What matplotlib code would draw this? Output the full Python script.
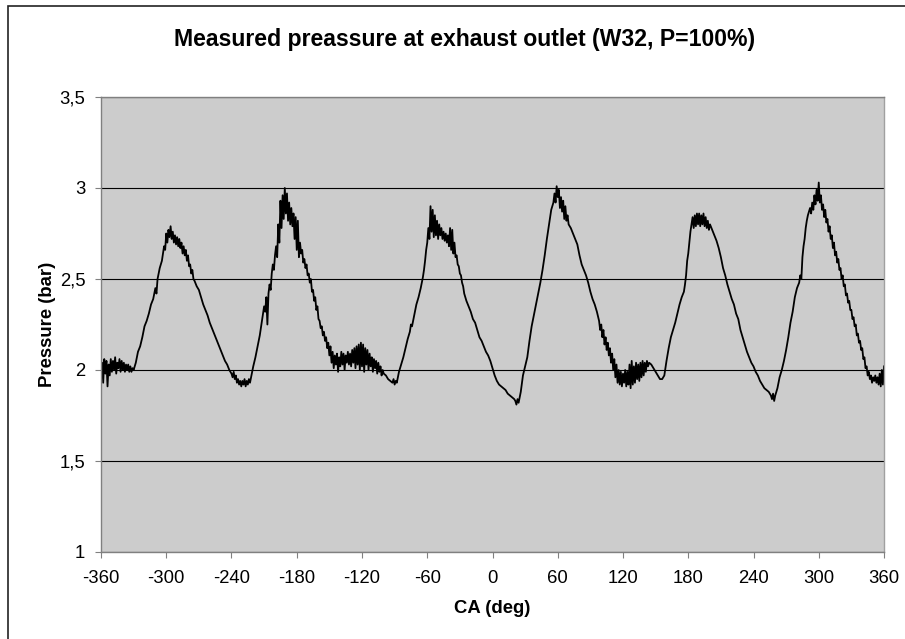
import matplotlib
matplotlib.use('Agg')
import matplotlib.pyplot as plt
from matplotlib.patches import Rectangle

plt.rcParams['font.family'] = ['Liberation Sans', 'DejaVu Sans']
plt.rcParams['axes.unicode_minus'] = False

title = 'Measured preassure at exhaust outlet (W32, P=100%)'
x_label = 'CA (deg)'
y_label = 'Pressure (bar)'
x_ticks = list(range(-360, 361, 60))
y_ticks = [1, 1.5, 2, 2.5, 3, 3.5]
y_tick_labels = ['1', '1,5', '2', '2,5', '3', '3,5']

# crank angle (deg) / pressure (bar)
ca_deg = []
pressure = []

ca_deg += [-360, -359, -358, -357, -356, -355, -354, -353, -352, -351,
           -350, -349, -348, -347, -346, -345, -344, -343, -342, -341,
           -340, -339, -338, -337, -336, -335, -334, -333, -332, -331, -330]
pressure += [1.95, 2.04, 1.93, 2.06, 1.98, 2.05, 1.91, 2.03, 1.97, 2.06,
             1.99, 2.05, 2.00, 2.07, 1.98, 2.04, 2.01, 2.06, 1.99, 2.05,
             2.00, 2.04, 1.99, 2.03, 2.00, 2.03, 1.99, 2.02, 1.99, 2.01, 2.00]

ca_deg += [-328, -326, -324, -322, -320, -318, -316, -314, -312, -310,
           -309, -308, -306, -304, -303, -302, -301]
pressure += [2.04, 2.10, 2.13, 2.18, 2.24, 2.27, 2.31, 2.36, 2.39, 2.45,
             2.42, 2.50, 2.56, 2.60, 2.64, 2.68, 2.66]

ca_deg += [-300, -299, -298, -297, -296, -295, -294, -293, -292, -291,
           -290, -289, -288, -287, -286, -285, -284, -283, -282, -281,
           -280, -279, -278, -277, -276, -275]
pressure += [2.75, 2.70, 2.77, 2.73, 2.79, 2.72, 2.76, 2.70, 2.74, 2.69,
             2.73, 2.68, 2.72, 2.67, 2.70, 2.64, 2.68, 2.63, 2.66, 2.60,
             2.63, 2.57, 2.58, 2.53, 2.55, 2.50]

ca_deg += [-274, -272, -270, -268, -266, -264, -262, -260, -258, -256,
           -254, -252, -250, -248, -246, -244, -242, -240]
pressure += [2.49, 2.46, 2.44, 2.40, 2.36, 2.33, 2.30, 2.26, 2.23, 2.20,
             2.17, 2.14, 2.11, 2.08, 2.05, 2.03, 2.00, 1.98]

ca_deg += [-239, -238, -237, -236, -235, -234, -233, -232, -231, -230,
           -229, -228, -227, -226, -225, -224, -223, -222, -221, -220]
pressure += [1.96, 1.99, 1.95, 1.97, 1.93, 1.95, 1.92, 1.94, 1.91, 1.94,
             1.92, 1.95, 1.91, 1.94, 1.92, 1.95, 1.93, 1.96, 1.99, 2.02]

ca_deg += [-218, -216, -214, -212]
pressure += [2.07, 2.13, 2.19, 2.27]

ca_deg += [-211, -210, -209, -208, -207, -206, -205, -204, -203, -202,
           -201, -200, -199, -198, -197, -196, -195, -194, -193, -192,
           -191, -190, -189, -188, -187, -186, -185, -184, -183, -182,
           -181, -180, -179, -178, -177, -176]
pressure += [2.31, 2.35, 2.32, 2.40, 2.25, 2.42, 2.47, 2.44, 2.53, 2.58,
             2.55, 2.63, 2.68, 2.62, 2.80, 2.70, 2.93, 2.78, 2.96, 2.83,
             3.00, 2.86, 2.97, 2.82, 2.92, 2.80, 2.89, 2.79, 2.86, 2.72,
             2.84, 2.66, 2.82, 2.62, 2.70, 2.64]

ca_deg += [-175, -174, -173, -172, -171, -170, -169, -168, -167, -166,
           -165, -164, -163, -162, -161, -160, -159, -158, -157, -156,
           -155, -154, -153, -152, -151, -150, -149, -148, -147, -146]
pressure += [2.66, 2.59, 2.61, 2.56, 2.58, 2.52, 2.53, 2.48, 2.50, 2.43,
             2.44, 2.38, 2.40, 2.33, 2.35, 2.28, 2.27, 2.23, 2.24, 2.19,
             2.21, 2.16, 2.18, 2.12, 2.15, 2.08, 2.13, 2.04, 2.10, 2.01]

ca_deg += [-145, -144, -143, -142, -141, -140, -139, -138, -137, -136,
           -135, -134, -133, -132, -131, -130, -129, -128, -127, -126,
           -125, -124, -123, -122, -121, -120, -119, -118, -117, -116,
           -115, -114, -113, -112, -111, -110, -109, -108, -107, -106,
           -105, -104, -103, -102, -101, -100]
pressure += [2.08, 2.03, 2.09, 1.99, 2.07, 2.02, 2.10, 2.03, 2.09, 2.00,
             2.08, 2.04, 2.10, 2.03, 2.09, 2.02, 2.11, 2.04, 2.12, 2.01,
             2.13, 2.03, 2.14, 2.00, 2.15, 2.02, 2.14, 1.99, 2.12, 2.03,
             2.11, 2.00, 2.09, 2.02, 2.07, 1.99, 2.06, 2.01, 2.05, 1.98,
             2.04, 1.99, 2.02, 1.97, 2.00, 1.98]

ca_deg += [-98, -96, -94, -92, -91, -90, -89, -88, -87, -86,
           -84, -82, -80, -78, -76, -75, -74, -72, -70, -68,
           -66, -64, -63, -62, -61]
pressure += [1.97, 1.95, 1.94, 1.93, 1.95, 1.92, 1.94, 1.93, 1.96, 1.99,
             2.03, 2.07, 2.12, 2.17, 2.21, 2.25, 2.24, 2.30, 2.36, 2.40,
             2.45, 2.51, 2.55, 2.60, 2.66]

ca_deg += [-60, -59, -58, -57, -56, -55, -54, -53, -52, -51,
           -50, -49, -48, -47, -46, -45, -44, -43, -42, -41,
           -40, -39, -38, -37, -36, -35, -34, -33, -32, -31,
           -30, -29, -28, -27, -26, -25]
pressure += [2.70, 2.78, 2.72, 2.90, 2.76, 2.88, 2.73, 2.85, 2.74, 2.82,
             2.72, 2.80, 2.74, 2.78, 2.72, 2.76, 2.71, 2.75, 2.70, 2.74,
             2.68, 2.78, 2.66, 2.77, 2.64, 2.70, 2.62, 2.63, 2.58, 2.57,
             2.53, 2.52, 2.48, 2.46, 2.42, 2.40]

ca_deg += [-24, -22, -20, -18, -16, -14, -12, -10, -8, -6,
           -4, -2, 0, 2, 4, 6, 8, 10, 12, 14,
           16, 18, 20]
pressure += [2.38, 2.35, 2.32, 2.28, 2.26, 2.22, 2.18, 2.16, 2.13, 2.10,
             2.08, 2.05, 2.01, 1.97, 1.94, 1.92, 1.91, 1.90, 1.89, 1.87,
             1.86, 1.85, 1.84]

ca_deg += [21, 22, 23, 24, 25, 26, 28, 30, 32, 34,
           36, 38, 40, 42, 44, 46, 48, 50, 52, 54]
pressure += [1.83, 1.81, 1.84, 1.82, 1.85, 1.88, 1.97, 2.02, 2.07, 2.16,
             2.24, 2.30, 2.36, 2.42, 2.48, 2.55, 2.63, 2.72, 2.80, 2.88]

ca_deg += [55, 56, 57, 58, 59, 60, 61, 62, 63, 64,
           65, 66, 67, 68, 69]
pressure += [2.90, 2.92, 2.97, 2.92, 3.01, 2.95, 2.99, 2.89, 2.95, 2.87,
             2.93, 2.83, 2.90, 2.82, 2.85]

ca_deg += [70, 72, 74, 76, 78, 80, 82, 84, 86, 88,
           90, 92, 94, 96, 98]
pressure += [2.80, 2.78, 2.75, 2.72, 2.69, 2.63, 2.58, 2.55, 2.52, 2.48,
             2.43, 2.39, 2.36, 2.32, 2.27]

ca_deg += [99, 100, 101, 102, 103, 104, 105, 106, 107, 108,
           109, 110, 111, 112, 113, 114, 115, 116, 117, 118,
           119, 120, 121, 122, 123, 124, 125, 126, 127, 128,
           129, 130, 131, 132, 133, 134, 135, 136, 137, 138,
           139, 140, 141, 142, 143]
pressure += [2.22, 2.25, 2.18, 2.22, 2.14, 2.18, 2.11, 2.15, 2.08, 2.12,
             2.04, 2.09, 2.00, 2.06, 1.96, 2.03, 1.93, 2.00, 1.92, 1.99,
             1.91, 1.98, 1.93, 2.00, 1.91, 1.99, 1.92, 2.03, 1.90, 2.05,
             1.92, 2.02, 1.93, 2.04, 1.95, 2.03, 1.94, 2.04, 1.96, 2.05,
             1.97, 2.04, 1.99, 2.05, 2.02]

ca_deg += [144, 146, 148, 150, 152, 154, 156, 158, 160, 162,
           164, 166, 168, 170, 172, 174, 176]
pressure += [2.04, 2.03, 2.01, 1.99, 1.97, 1.95, 1.95, 1.97, 2.05, 2.12,
             2.18, 2.22, 2.26, 2.31, 2.36, 2.40, 2.43]

ca_deg += [177, 178, 179, 180, 181, 182, 183, 184, 185, 186,
           187, 188, 189, 190, 191, 192, 193, 194, 195, 196,
           197, 198, 199]
pressure += [2.47, 2.52, 2.60, 2.64, 2.70, 2.76, 2.80, 2.84, 2.78, 2.85,
             2.79, 2.86, 2.80, 2.86, 2.79, 2.85, 2.80, 2.86, 2.79, 2.84,
             2.78, 2.82, 2.77]

ca_deg += [200, 202, 204, 206, 208, 210, 212, 214, 216, 218,
           220, 222, 224, 226, 228, 230, 232, 234, 236, 238,
           240, 242, 244, 246, 248, 250, 252, 254, 256]
pressure += [2.80, 2.77, 2.74, 2.71, 2.67, 2.62, 2.56, 2.52, 2.47, 2.43,
             2.39, 2.36, 2.31, 2.28, 2.22, 2.18, 2.14, 2.10, 2.07, 2.04,
             2.02, 1.99, 1.97, 1.94, 1.92, 1.90, 1.89, 1.88, 1.86]

ca_deg += [257, 258, 259, 260, 262, 264, 266, 268, 270, 272,
           274, 276, 278, 280, 282, 283, 284]
pressure += [1.84, 1.87, 1.83, 1.86, 1.90, 1.96, 2.00, 2.05, 2.11, 2.18,
             2.26, 2.32, 2.40, 2.45, 2.48, 2.52, 2.50]

ca_deg += [285, 286, 287, 288, 289, 290, 291, 292, 293, 294,
           295, 296, 297, 298, 299, 300, 301, 302, 303, 304,
           305, 306, 307, 308, 309, 310, 311, 312, 313, 314,
           315, 316, 317, 318, 319, 320, 321, 322, 323, 324,
           325, 326, 327, 328, 329, 330, 331, 332, 333, 334,
           335, 336, 337, 338, 339, 340, 341, 342, 343, 344,
           345, 346, 347, 348, 349, 350, 351, 352, 353, 354,
           355, 356, 357, 358, 359, 360]
pressure += [2.62, 2.68, 2.72, 2.78, 2.82, 2.85, 2.87, 2.89, 2.86, 2.92,
             2.88, 2.96, 2.91, 2.99, 2.93, 3.03, 2.92, 2.96, 2.88, 2.91,
             2.84, 2.88, 2.81, 2.83, 2.76, 2.79, 2.72, 2.74, 2.67, 2.70,
             2.63, 2.65, 2.59, 2.61, 2.55, 2.56, 2.50, 2.52, 2.46, 2.47,
             2.41, 2.42, 2.37, 2.38, 2.33, 2.33, 2.28, 2.29, 2.24, 2.25,
             2.19, 2.20, 2.15, 2.16, 2.11, 2.12, 2.06, 2.07, 2.01, 2.02,
             1.97, 1.99, 1.95, 1.97, 1.93, 1.96, 1.94, 1.97, 1.93, 1.96,
             1.92, 1.98, 1.91, 2.00, 1.92, 2.02]

assert len(ca_deg) == len(pressure)

W, H = 905, 639
fig = plt.figure(figsize=(W / 100, H / 100), dpi=100)

# chart border (Excel chart area)
fig.patches.append(Rectangle((8 / W, -0.1), 1.2, 1.1 - 6 / H, transform=fig.transFigure,
                             fill=False, edgecolor='#222222', linewidth=1.2))

ax = fig.add_axes([101 / W, 1 - 552 / H, 783 / W, 455 / H])
ax.set_facecolor('#CCCCCC')
ax.plot(ca_deg, pressure, color='black', linewidth=1.3)

ax.set_xlim(-360, 360)
ax.set_ylim(1, 3.5)
ax.set_xticks(x_ticks)
ax.set_yticks(y_ticks)
ax.set_yticklabels(y_tick_labels)
ax.grid(axis='y', color='black', linewidth=0.8)
ax.set_axisbelow(True)

for s in ax.spines.values():
    s.set_color('#808080')
    s.set_linewidth(1.0)
ax.spines['right'].set_color('#A0A0A0')
ax.tick_params(direction='out', length=4.3, width=0.8, color='#808080', labelsize=13.3)
ax.tick_params(axis='x', pad=9)
ax.tick_params(axis='y', pad=7)

fig.text(464.5 / W, 1 - 46 / H, title, ha='center', va='baseline',
         fontsize=16.6, fontweight='bold')
fig.text(492.5 / W, 1 - 613 / H, x_label, ha='center', va='baseline',
         fontsize=13.3, fontweight='bold')
fig.text(47 / W, 1 - 324.5 / H, y_label, ha='center', va='center',
         rotation=90, fontsize=13.3, fontweight='bold')

fig.savefig('out.png', dpi=100)
